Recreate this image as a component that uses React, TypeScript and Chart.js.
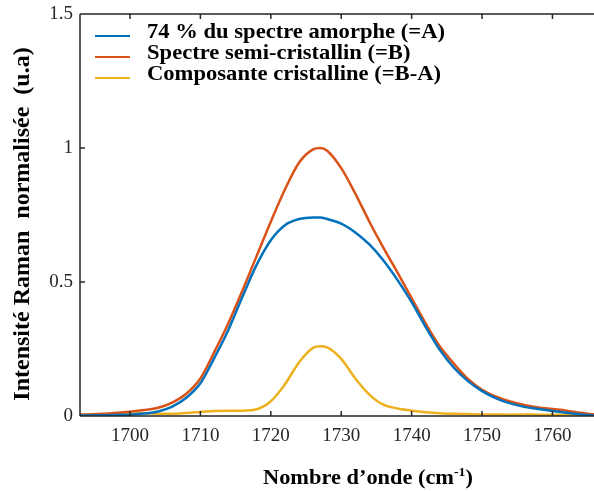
import { useEffect, useRef } from "react";
import { Chart, registerables } from "chart.js";

Chart.register(...registerables);

// Wavenumber grid (cm-1)
const wavenumbers = [
  1692, 1694, 1696, 1698, 1700, 1702, 1704, 1706, 1708, 1710, 1712, 1714, 1716, 1718, 1720, 1722, 1724, 1726,
  1727,
  1728, 1730, 1732, 1734, 1736, 1738, 1740, 1742, 1744, 1746, 1748, 1750, 1752, 1754, 1756, 1758, 1760, 1762, 1764, 1766,
];

// 74 % du spectre amorphe (=A)
const seriesA = [
  0.001, 0.002, 0.003, 0.004, 0.005, 0.009, 0.017, 0.035, 0.068, 0.122, 0.218, 0.323, 0.447, 0.565, 0.656, 0.712, 0.735, 0.741,
  0.741,
  0.735, 0.718, 0.685, 0.64, 0.58, 0.507, 0.425, 0.332, 0.247, 0.18, 0.13, 0.093, 0.066, 0.047, 0.034, 0.026, 0.019, 0.012, 0.006, 0.002,
];

// Spectre semi-cristallin (=B)
const seriesB = [
  0.004, 0.006, 0.008, 0.012, 0.016, 0.022, 0.031, 0.05, 0.083, 0.14, 0.24, 0.348, 0.47, 0.598, 0.725, 0.845, 0.945, 0.995,
  1.0,
  0.99, 0.925, 0.83, 0.725, 0.627, 0.535, 0.44, 0.345, 0.26, 0.195, 0.138, 0.098, 0.072, 0.054, 0.041, 0.032, 0.026, 0.02, 0.012, 0.006,
];

// Composante cristalline (=B-A)
const seriesC = [
  0.004, 0.005, 0.006, 0.007, 0.008, 0.01, 0.008, 0.008, 0.011, 0.015, 0.019, 0.02, 0.02, 0.025, 0.055, 0.118, 0.2, 0.254,
  0.26,
  0.256, 0.213, 0.14, 0.08, 0.042, 0.028, 0.02, 0.014, 0.01, 0.008, 0.007, 0.006, 0.006, 0.005, 0.006, 0.005, 0.005, 0.005, 0.005, 0.005,
];

const seriesLabels = [
  "74 % du spectre amorphe (=A)",
  "Spectre semi-cristallin (=B)",
  "Composante cristalline (=B-A)",
];
const seriesColors = ["#0072BD", "#D95319", "#EDB120"];

const xTicks = [1700, 1710, 1720, 1730, 1740, 1750, 1760];
const yTicks = [0, 0.5, 1, 1.5];
const yTickLabels = ["0", "0.5", "1", "1.5"];

const xTitleMain = "Nombre d\u2019onde (cm";
const xTitleSup = "-1";
const xTitleEnd = ")";
const yTitle = "Intensit\u00e9 Raman  normalis\u00e9e  (u.a)";

const SERIF = '"Liberation Serif", "Times New Roman", serif';
const AXIS_COLOR = "#262626";

const framePlugin = {
  id: "frame",
  afterDraw(chart: any) {
    const { ctx, chartArea, scales } = chart;
    const { left, right, top, bottom } = chartArea;
    ctx.save();
    ctx.strokeStyle = AXIS_COLOR;
    ctx.lineWidth = 1.5;
    ctx.beginPath();
    ctx.moveTo(left, top);
    ctx.lineTo(left, bottom);
    ctx.moveTo(left, bottom);
    ctx.lineTo(right, bottom);
    ctx.moveTo(left, top);
    ctx.lineTo(right, top);
    for (const v of xTicks) {
      const px = scales.x.getPixelForValue(v);
      ctx.moveTo(px, bottom);
      ctx.lineTo(px, bottom - 5);
      ctx.moveTo(px, top);
      ctx.lineTo(px, top + 5);
    }
    for (const v of yTicks) {
      const py = scales.y.getPixelForValue(v);
      ctx.moveTo(left, py);
      ctx.lineTo(left + 5, py);
    }
    ctx.stroke();

    // Legend (text slightly widened to match the original's lettering)
    const legendRows = [36, 57, 78];
    ctx.font = `bold 21px ${SERIF}`;
    const legendScale = 298 / ctx.measureText(seriesLabels[0]).width;
    ctx.lineWidth = 2.2;
    seriesLabels.forEach((label, i) => {
      const y = legendRows[i];
      ctx.strokeStyle = seriesColors[i];
      ctx.beginPath();
      ctx.moveTo(95, y);
      ctx.lineTo(130, y);
      ctx.stroke();
      ctx.save();
      ctx.translate(147, y - 3);
      ctx.scale(legendScale, 1);
      ctx.fillStyle = "#000";
      ctx.font = `bold 21px ${SERIF}`;
      ctx.textAlign = "left";
      ctx.textBaseline = "middle";
      ctx.fillText(label, 0, 0);
      ctx.restore();
    });

    // X title with superscript
    ctx.save();
    ctx.fillStyle = "#000";
    ctx.textBaseline = "alphabetic";
    ctx.textAlign = "left";
    ctx.font = `bold 21px ${SERIF}`;
    const wMain = ctx.measureText(xTitleMain).width;
    const wEnd = ctx.measureText(xTitleEnd).width;
    ctx.font = `bold 13px ${SERIF}`;
    const wSup = ctx.measureText(xTitleSup).width;
    const total = wMain + wSup + wEnd;
    const xs = 210 / total;
    ctx.translate(263, 484);
    ctx.scale(xs, 1);
    ctx.font = `bold 21px ${SERIF}`;
    ctx.fillText(xTitleMain, 0, 0);
    ctx.font = `bold 13px ${SERIF}`;
    ctx.fillText(xTitleSup, wMain, -8);
    ctx.font = `bold 21px ${SERIF}`;
    ctx.fillText(xTitleEnd, wMain + wSup, 0);
    ctx.restore();

    // Y title
    ctx.save();
    ctx.translate(23, 224);
    ctx.rotate(-Math.PI / 2);
    ctx.font = `bold 24px ${SERIF}`;
    ctx.fillStyle = "#000";
    ctx.textAlign = "center";
    ctx.textBaseline = "middle";
    ctx.fillText(yTitle, 0, 0);
    ctx.restore();

    ctx.restore();
  },
};

export default function App() {
  const canvasRef = useRef<HTMLCanvasElement | null>(null);

  useEffect(() => {
    const canvas = canvasRef.current;
    if (!canvas) return;
    const mk = (vals: number[]) => wavenumbers.map((w, i) => ({ x: w, y: vals[i] }));
    const chart = new Chart(canvas, {
      type: "line",
      data: {
        datasets: [
          { label: seriesLabels[0], data: mk(seriesA), borderColor: seriesColors[0], borderWidth: 2.5, pointRadius: 0, cubicInterpolationMode: "monotone", fill: false },
          { label: seriesLabels[1], data: mk(seriesB), borderColor: seriesColors[1], borderWidth: 2.5, pointRadius: 0, cubicInterpolationMode: "monotone", fill: false },
          { label: seriesLabels[2], data: mk(seriesC), borderColor: seriesColors[2], borderWidth: 2.5, pointRadius: 0, cubicInterpolationMode: "monotone", fill: false },
        ],
      },
      options: {
        animation: false,
        responsive: false,
        maintainAspectRatio: false,
        layout: { padding: { top: 14, left: 0, right: 0, bottom: 0 } },
        plugins: { legend: { display: false }, tooltip: { enabled: false }, title: { display: false } },
        scales: {
          x: {
            type: "linear",
            min: 1692.9,
            max: 1765.9,
            border: { display: false },
            grid: { display: false, drawTicks: false },
            ticks: {
              font: { family: SERIF, size: 19 },
              color: AXIS_COLOR,
              padding: 9,
              maxRotation: 0,
              autoSkip: false,
              callback: (v: any) => String(v),
            },
            afterBuildTicks: (s: any) => {
              s.ticks = xTicks.map((v) => ({ value: v }));
            },
            afterFit: (s: any) => {
              s.height = 75;
              s.paddingLeft = 0;
              s.paddingRight = 0;
            },
          },
          y: {
            type: "linear",
            min: 0,
            max: 1.5,
            border: { display: false },
            grid: { display: false, drawTicks: false },
            ticks: {
              font: { family: SERIF, size: 19 },
              color: AXIS_COLOR,
              padding: 7,
              callback: (v: any) => {
                const i = yTicks.indexOf(Number(v));
                return i >= 0 ? yTickLabels[i] : "";
              },
            },
            afterBuildTicks: (s: any) => {
              s.ticks = yTicks.map((v) => ({ value: v }));
            },
            afterFit: (s: any) => {
              s.width = 80;
              s.paddingTop = 0;
              s.paddingBottom = 0;
            },
          },
        },
      },
      plugins: [framePlugin],
    });
    return () => chart.destroy();
  }, []);

  return (
    <div style={{ position: "fixed", left: 0, top: 0, width: 594, height: 491, background: "#fff" }}>
      <canvas ref={canvasRef} width={594} height={491} style={{ display: "block" }} />
    </div>
  );
}
